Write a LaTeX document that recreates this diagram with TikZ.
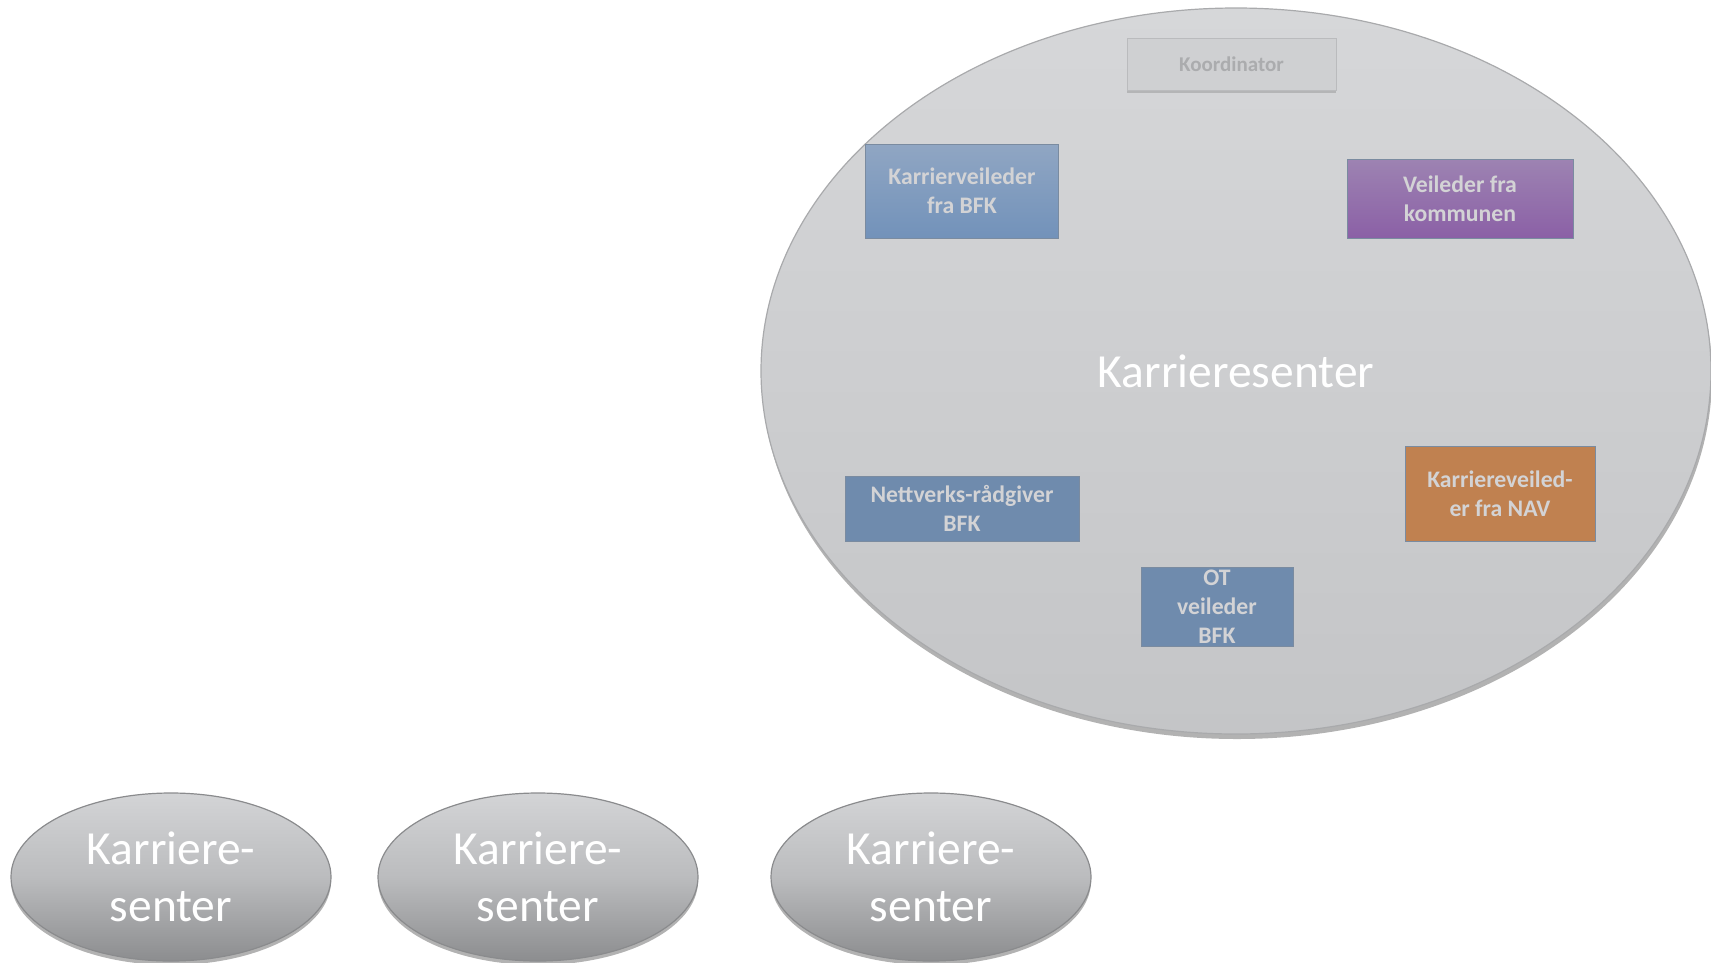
\documentclass[tikz,border=0pt]{standalone}
\usepackage{fontspec}
\setmainfont{Carlito}
\usetikzlibrary{shapes.geometric,shadows}
\definecolor{bigtop}{HTML}{D6D7D9}
\definecolor{bigbot}{HTML}{C4C5C7}
\definecolor{bigedge}{HTML}{A9AAAC}
\definecolor{smtop}{HTML}{D3D4D6}
\definecolor{smmid}{HTML}{BBBCBE}
\definecolor{smbot}{HTML}{8C8D8F}
\definecolor{smedge}{HTML}{8A8B8D}
\definecolor{boxtext}{HTML}{D3D3D5}
\definecolor{boxedge}{HTML}{7A8BA0}
\definecolor{bfktop}{HTML}{90A6C3}
\definecolor{bfkbot}{HTML}{7292BA}
\definecolor{komtop}{HTML}{9D83B2}
\definecolor{kombot}{HTML}{8B60A6}
\definecolor{bfkflat}{HTML}{6F8BAD}
\definecolor{nav}{HTML}{C08150}
\definecolor{koordfill}{HTML}{CFD0D2}
\definecolor{koordtext}{HTML}{ABACAE}
\tikzset{
  bigell/.style={ellipse, inner sep=0pt, minimum width=950, minimum height=726,
    top color=bigtop, bottom color=bigbot, draw=bigedge, line width=1.2pt,
    drop shadow={shadow xshift=1pt, shadow yshift=-5pt, opacity=0.3, fill=black},
    text=white, font=\fontsize{47.5}{56}\selectfont},
  smell/.style={ellipse, inner sep=0pt, minimum width=320, minimum height=168,
    top color=smtop, bottom color=smbot, middle color=smmid, draw=smedge, line width=1.2pt,
    drop shadow={shadow xshift=0pt, shadow yshift=-4pt, opacity=0.3, fill=black},
    text=white, align=center, font=\fontsize{47.5}{57}\selectfont},
  rolebox/.style={rectangle, inner sep=0pt, draw=boxedge, line width=0.8pt,
    text=boxtext, align=center, font=\bfseries\fontsize{23.7}{29}\selectfont},
}
\begin{document}
\begin{tikzpicture}[x=1pt,y=-1pt]
\useasboundingbox (0,0) rectangle (1711,962);

\node[bigell] (big) at (1236,371) {Karrieresenter};

\node[rectangle, inner sep=0pt, minimum width=209, minimum height=52,
  fill=koordfill, draw=koordfill!90!black, line width=0.5pt,
  drop shadow={shadow xshift=0pt, shadow yshift=-3pt, opacity=0.15, fill=black},
  text=koordtext, font=\bfseries\fontsize{21}{25}\selectfont]
  (koord) at (1231.5,64) {\raisebox{-2pt}{Koordinator}};

\node[rolebox, minimum width=193, minimum height=94, top color=bfktop, bottom color=bfkbot]
  (kbfk) at (962,191) {Karrierveileder\\fra BFK};
\node[rolebox, minimum width=226, minimum height=79, top color=komtop, bottom color=kombot]
  (kom) at (1460,198.5) {Veileder fra\\kommunen};
\node[rolebox, minimum width=234, minimum height=65, fill=bfkflat]
  (nett) at (962,508.5) {Nettverks-rådgiver\\BFK};
\node[rolebox, minimum width=152, minimum height=79, fill=bfkflat]
  (ot) at (1217,606.5) {OT\\veileder\\BFK};
\node[rolebox, minimum width=190, minimum height=95, fill=nav]
  (nav) at (1500,493.5) {Karriereveiled-\\er fra NAV};

\node[smell] (s1) at (171,877) {Karriere-\\senter};
\node[smell] (s2) at (538,877) {Karriere-\\senter};
\node[smell] (s3) at (931,877) {Karriere-\\senter};
\end{tikzpicture}
\end{document}
